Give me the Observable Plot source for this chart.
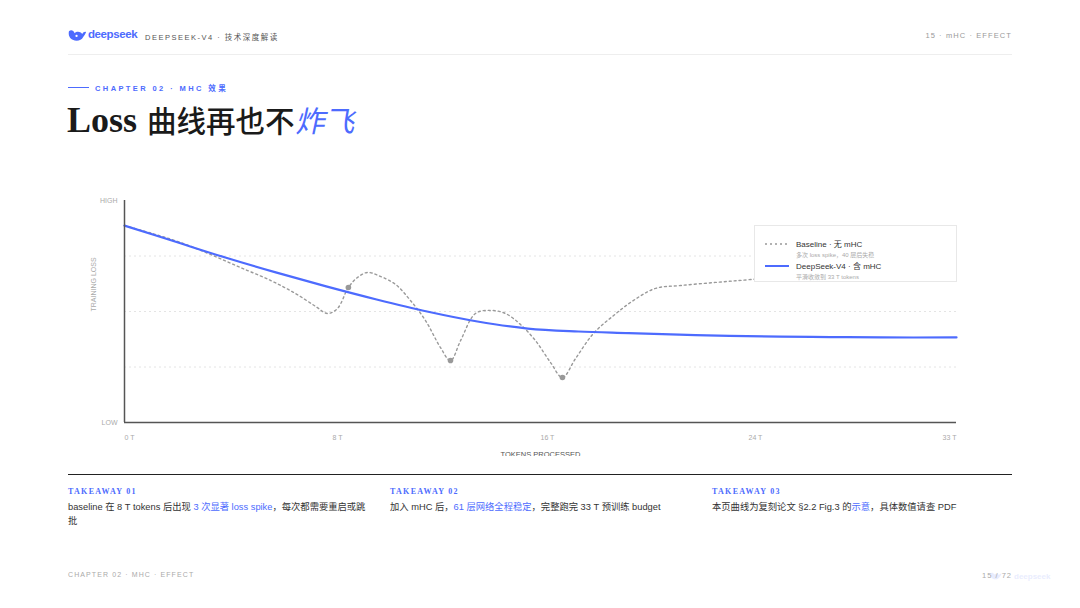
<!DOCTYPE html>
<html><head><meta charset="utf-8">
<script src="https://cdn.jsdelivr.net/npm/d3@7"></script>
<script src="https://cdn.jsdelivr.net/npm/@observablehq/plot@0.6"></script>
<style>
body{margin:0;background:#fff;font-family:"Liberation Sans","Noto Sans CJK SC",sans-serif;}
#page{position:relative;width:1080px;height:608px;overflow:hidden;background:#fff;}
.abs{position:absolute;white-space:nowrap;}
.blue{color:#4d6bfe;}
.tk-h{font-family:"Liberation Serif","Noto Sans CJK SC",serif;font-weight:700;font-size:8px;letter-spacing:1.3px;color:#4d6bfe;}
.tk-b{font-size:9.3px;color:#333;line-height:14px;}
.leg-t{font-size:8px;color:#333;}
.leg-s{font-size:6px;color:#aaa;}
</style></head><body>
<div id="page">
  <!-- header -->
  <svg class="abs" style="left:68px;top:28px" width="19" height="15" viewBox="0 0 20 15">
    <path d="M1 3 C3 1 6 2 7 5 C9 3 13 3 15 6 C16 4 18 3 19 4 C18 6 17 8 16 9 C14 13 9 14 5 12 C2 11 0 7 1 3 Z" fill="#4d6bfe"/>
    <circle cx="9" cy="8" r="1.2" fill="#fff"/>
  </svg>
  <div class="abs" style="left:88px;top:28px;font-size:11.5px;font-weight:700;color:#4d6bfe;letter-spacing:-0.4px">deepseek</div>
  <div class="abs" style="left:145px;top:31px;font-size:7.5px;color:#555;letter-spacing:1.5px">DEEPSEEK-V4 · 技术深度解读</div>
  <div class="abs" style="right:68px;top:31px;font-size:7.5px;color:#999;letter-spacing:1.1px">15 · mHC · EFFECT</div>
  <div class="abs" style="left:68px;top:54px;width:944px;height:1px;background:#eeeeee"></div>

  <!-- chapter + title -->
  <div class="abs" style="left:68px;top:87px;width:21px;height:1px;background:#4d6bfe"></div>
  <div class="abs" style="left:95px;top:82px;font-size:7.5px;color:#4d6bfe;letter-spacing:2.4px;font-weight:600">CHAPTER 02 · MHC 效果</div>
  <div class="abs" style="left:67px;top:99px;color:#1a1a1a;line-height:40px">
    <span style="font-family:'Liberation Serif',serif;font-weight:700;font-size:36px;letter-spacing:0px">Loss</span><span style="font-family:'Noto Sans CJK SC',sans-serif;font-weight:500;font-size:29.5px;margin-left:10px">曲线再也不</span><span style="font-family:'Noto Sans CJK SC',sans-serif;font-weight:400;font-size:29.5px;color:#4d6bfe;display:inline-block;transform:skewX(-12deg);margin-left:3px">炸飞</span>
  </div>

  <!-- chart -->
  <div id="chart" class="abs" style="left:68px;top:185px;width:944px;height:271px;overflow:hidden"></div>

  <!-- legend -->
  <div class="abs" style="left:754px;top:225px;width:201px;height:55px;background:#fff;border:1px solid #e8e8e8">
    <svg class="abs" style="left:10px;top:16px" width="24" height="4"><line x1="0" y1="2" x2="24" y2="2" stroke="#999" stroke-width="1.3" stroke-dasharray="2,3"/></svg>
    <div class="abs leg-t" style="left:41px;top:12px">Baseline · 无 mHC</div>
    <div class="abs leg-s" style="left:41px;top:24px">多次 loss spike，40 层后失稳</div>
    <svg class="abs" style="left:10px;top:38px" width="24" height="4"><line x1="0" y1="2" x2="24" y2="2" stroke="#4d6bfe" stroke-width="2"/></svg>
    <div class="abs leg-t" style="left:41px;top:34px">DeepSeek-V4 · 含 mHC</div>
    <div class="abs leg-s" style="left:41px;top:46px">平滑收敛到 33 T tokens</div>
  </div>

  <!-- bottom rule & takeaways -->
  <div class="abs" style="left:68px;top:474px;width:944px;height:1px;background:#222"></div>
  <div class="abs tk-h" style="left:68px;top:487px">TAKEAWAY 01</div>
  <div class="abs tk-b" style="left:68px;top:500px">baseline 在 8 T tokens 后出现 <span class="blue">3 次显著 loss spike</span>，每次都需要重启或跳<br>批</div>
  <div class="abs tk-h" style="left:390px;top:487px">TAKEAWAY 02</div>
  <div class="abs tk-b" style="left:390px;top:500px">加入 mHC 后，<span class="blue">61 层网络全程稳定</span>，完整跑完 33 T 预训练 budget</div>
  <div class="abs tk-h" style="left:712px;top:487px">TAKEAWAY 03</div>
  <div class="abs tk-b" style="left:712px;top:500px">本页曲线为复刻论文 §2.2 Fig.3 的<span class="blue">示意</span>，具体数值请查 PDF</div>

  <!-- footer -->
  <div class="abs" style="left:68px;top:571px;font-size:7px;color:#aaa;letter-spacing:1.1px">CHAPTER 02 · MHC · EFFECT</div>
  <svg class="abs" style="left:990px;top:571px;opacity:0.12" width="12" height="10" viewBox="0 0 20 15">
    <path d="M1 3 C3 1 6 2 7 5 C9 3 13 3 15 6 C16 4 18 3 19 4 C18 6 17 8 16 9 C14 13 9 14 5 12 C2 11 0 7 1 3 Z" fill="#4d6bfe"/>
  </svg>
  <div class="abs" style="left:1014px;top:572px;font-size:8px;font-weight:700;color:#4d6bfe;opacity:0.12">deepseek</div>
  <div class="abs" style="right:68px;top:571px;font-size:7.5px;color:#aaa;letter-spacing:1px">15 / 72</div>
</div>
<script>
// ---- data (x in T tokens, y in relative loss 0=LOW..1=HIGH)
const v4Tokens = [0,2,4,6,8,10,12,14,16,18,20,22,24,26,28,30,33];
const v4Loss   = [0.887,0.815,0.743,0.676,0.613,0.554,0.500,0.455,0.423,0.410,0.403,0.396,0.390,0.387,0.385,0.383,0.383];

const baseTokens = [0,1.11,2.22,3.41,4.60,5.79,6.78,7.58,8.05,8.45,8.88,9.24,9.64,10.15,10.75,11.34,11.94,12.53,12.93,13.33,13.92,14.52,15.11,15.71,16.30,16.90,17.37,17.89,18.60,19.40,20.19,21.06,22.05,23.44,24.83,26.81,29.19,33];
const baseLoss   = [0.887,0.851,0.811,0.757,0.698,0.640,0.581,0.523,0.491,0.514,0.608,0.653,0.676,0.658,0.622,0.550,0.459,0.338,0.279,0.369,0.491,0.505,0.491,0.441,0.369,0.270,0.203,0.288,0.401,0.482,0.550,0.604,0.617,0.631,0.644,0.667,0.694,0.721];

const spikeTokens = [8.88,12.93,17.37];
const spikeLoss   = [0.608,0.279,0.203];

const xTickValues = [0,8.25,16.5,24.75,33];
const xTickLabels = ["0 T","8 T","16 T","24 T","33 T"];
const yTickValues = [0,1];
const yTickLabels = ["LOW","HIGH"];
const gridLevels  = [0.25,0.5,0.75];

// ---- build tables
const v4Data = v4Tokens.map((t,i)=>({t, v:v4Loss[i]}));
const baseData = baseTokens.map((t,i)=>({t, v:baseLoss[i]}));
const spikeData = spikeTokens.map((t,i)=>({t, v:spikeLoss[i]}));
const xTicks = xTickValues.map((t,i)=>({t, label:xTickLabels[i]}));
const yTicks = yTickValues.map((v,i)=>({v, label:yTickLabels[i]}));

const font = "Liberation Sans, Noto Sans CJK SC, sans-serif";
const chart = Plot.plot({
  width: 944, height: 271,
  marginLeft: 56, marginRight: 56, marginTop: 15, marginBottom: 34,
  x: {domain: [0,33], axis: null},
  y: {domain: [0,1], axis: null},
  style: {background: "transparent", fontFamily: font, overflow: "hidden"},
  marks: [
    Plot.ruleY(gridLevels, {stroke: "#e4e4e4", strokeWidth: 1, strokeDasharray: "2,3"}),
    Plot.line(baseData, {x: "t", y: "v", stroke: "#9a9a9a", strokeWidth: 1.4, strokeDasharray: "2,3", curve: "catmull-rom"}),
    Plot.dot(spikeData, {x: "t", y: "v", r: 2.8, fill: "#999", stroke: "none"}),
    Plot.line(v4Data, {x: "t", y: "v", stroke: "#4d6bfe", strokeWidth: 2.2, curve: "catmull-rom"}),
    Plot.ruleY([0], {stroke: "#555", strokeWidth: 1.5}),
    Plot.ruleX([0], {stroke: "#555", strokeWidth: 1.5}),
    Plot.text(yTicks, {x: 0, y: "v", text: "label", textAnchor: "end", dx: -7, fill: "#aaa", fontSize: 7, letterSpacing: 0.5}),
    Plot.text(xTicks.slice(0,-1), {x: "t", y: 0, text: "label", textAnchor: "start", dy: 15, fill: "#aaa", fontSize: 7, letterSpacing: 1}),
    Plot.text(xTicks.slice(-1), {x: "t", y: 0, text: "label", textAnchor: "end", dy: 15, fill: "#aaa", fontSize: 7, letterSpacing: 1}),
    Plot.text(["TRAINING LOSS"], {frameAnchor: "left", dx: -31, dy: 0, rotate: -90, fill: "#aaa", fontSize: 7, letterSpacing: 2}),
    Plot.text(["TOKENS PROCESSED"], {frameAnchor: "bottom", dy: 29, lineAnchor: "top", fill: "#555", fontSize: 7.5, letterSpacing: 2.6})
  ]
});
document.getElementById("chart").appendChild(chart);
</script>
</body></html>
